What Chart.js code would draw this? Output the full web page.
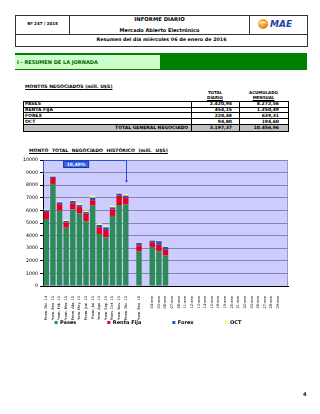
<!DOCTYPE html>
<html>
<head>
<meta charset="utf-8">
<script src="https://cdn.jsdelivr.net/npm/chart.js@4.4.0/dist/chart.umd.min.js"></script>
<style>
  html, body { margin: 0; padding: 0; background: #fff; }
  body { width: 320px; height: 414px; position: relative; overflow: hidden;
         font-family: "DejaVu Sans", Verdana, sans-serif; font-weight: bold; color: #000; }
  .a { position: absolute; white-space: nowrap; }
  .ln { position: absolute; background: #333; }
  .c { text-align: center; }
  .u { text-decoration: underline; }
  .row { position: absolute; left: 23px; width: 265px; height: 6px; line-height: 6px; font-size: 4.5px; }
  .row span { position: absolute; top: 0; }
  #chartBox { position: absolute; left: 0; top: 152px; }
</style>
</head>
<body>
  <!-- header box -->
  <div class="a" style="left:15px;top:15px;width:291px;height:30px;border:1px solid #333"></div>
  <div class="ln" style="left:69px;top:15px;width:1px;height:19px"></div>
  <div class="ln" style="left:249px;top:15px;width:1px;height:19px"></div>
  <div class="ln" style="left:15px;top:34px;width:292px;height:1px"></div>
  <div class="a c" style="left:16px;top:21px;width:53px;font-size:4px">Nº 247 / 2015</div>
  <div class="a c" style="left:70px;top:15.5px;width:179px;font-size:5.3px">INFORME DIARIO</div>
  <div class="a c" style="left:70px;top:26.5px;width:179px;font-size:5px">Mercado Abierto Electrónico</div>
  <div class="a c" style="left:16px;top:37px;width:291px;font-size:4.8px">Resumen del día miércoles 06 de enero de 2016</div>
  <div class="a" style="left:258px;top:19px;width:10px;height:10px;border-radius:50%;background:radial-gradient(circle at 35% 35%,#ffd080,#f08a10 60%,#c05a00)"></div>
  <div class="a" style="left:259px;top:22px;width:8px;height:3px;border-top:1px solid #fff;border-radius:50%"></div>
  <div class="a" style="left:270px;top:18.5px;font-size:9px;font-style:italic;color:#1f3fa8">MAE</div>

  <!-- section band -->
  <div class="a" style="left:15px;top:53px;width:292px;height:17px;background:#008000"></div>
  <div class="a" style="left:15px;top:55px;width:145px;height:14px;background:#ccffcc"></div>
  <div class="a" style="left:17px;top:59px;font-size:5px;color:#006600">I - RESUMEN DE LA JORNADA</div>

  <!-- montos table -->
  <div class="a u" style="left:25px;top:84px;font-size:4.6px">MONTOS NEGOCIADOS (mill. U$S)</div>
  <div class="a c" style="left:191px;top:89.5px;width:48px;font-size:4px">TOTAL</div>
  <div class="a c u" style="left:191px;top:94.5px;width:48px;font-size:4px">DIARIO</div>
  <div class="a c" style="left:239px;top:89.5px;width:49px;font-size:4px">ACUMULADO</div>
  <div class="a c u" style="left:239px;top:94.5px;width:49px;font-size:4px">MENSUAL</div>

  <div class="a" style="left:23px;top:124.5px;width:265px;height:6px;background:#c0c0c0"></div>
  <div class="row" style="top:101px"><span style="left:2px">PASES</span><span style="right:56px">2.420,94</span><span style="right:9px">8.272,56</span></div>
  <div class="row" style="top:106.9px"><span style="left:2px">RENTA FIJA</span><span style="right:56px">454,15</span><span style="right:9px">1.350,49</span></div>
  <div class="row" style="top:112.8px"><span style="left:2px">FOREX</span><span style="right:56px">228,48</span><span style="right:9px">639,31</span></div>
  <div class="row" style="top:118.7px"><span style="left:2px">OCT</span><span style="right:56px">94,80</span><span style="right:9px">194,60</span></div>
  <div class="row" style="top:124.6px"><span style="right:100px">TOTAL GENERAL NEGOCIADO</span><span style="right:56px">3.197,37</span><span style="right:9px">10.456,96</span></div>
  <div class="a" style="left:23px;top:100.5px;width:264px;height:29.5px;border:1px solid #000"></div>
  <div class="ln" style="left:23px;top:106.5px;width:265px;height:0.5px;background:#000"></div>
  <div class="ln" style="left:23px;top:112.4px;width:265px;height:0.5px;background:#000"></div>
  <div class="ln" style="left:23px;top:118.3px;width:265px;height:0.5px;background:#000"></div>
  <div class="ln" style="left:23px;top:124.2px;width:265px;height:1px;background:#000"></div>
  <div class="ln" style="left:190.5px;top:100.5px;width:1px;height:30px;background:#000"></div>
  <div class="ln" style="left:239px;top:100.5px;width:1px;height:30px;background:#000"></div>

  <div class="a u" style="left:29px;top:147.5px;font-size:4.6px;word-spacing:2px">MONTO TOTAL NEGOCIADO HISTÓRICO (mill. U$S)</div>

  <div id="chartBox"><canvas id="myChart" width="320" height="214"></canvas></div>

  <div class="a" style="left:303px;top:391px;font-size:5px">4</div>

<script>
const categories = [
  'Prom. Dic. 14', 'Prom. Ene. 15', 'Prom. Feb. 15', 'Prom. Mar. 15', 'Prom. Abr. 15',
  'Prom. May. 15', 'Prom. Jun. 15', 'Prom. Jul. 15', 'Prom. Ago. 15', 'Prom. Sep. 15',
  'Prom. Oct. 15', 'Prom. Nov. 15', 'Prom. Dic. 15', '', 'Prom. Ene. 16', '',
  '04-ene', '05-ene', '06-ene', '07-ene', '08-ene', '11-ene', '12-ene', '13-ene',
  '14-ene', '15-ene', '18-ene', '19-ene', '20-ene', '21-ene', '22-ene', '25-ene',
  '26-ene', '27-ene', '28-ene', '29-ene', ''
];

const pases = [5320, 8100, 5980, 4630, 6080, 5770, 5130, 6380, 4130, 3860, 5560, 6430, 6480,
  null, 2758, null, 3100, 2752, 2421,
  null, null, null, null, null, null, null, null, null, null, null, null, null, null, null, null, null, null, null];
const rentaFija = [550, 470, 520, 400, 480, 530, 610, 420, 530, 580, 520, 740, 530,
  null, 450, null, 370, 526, 454,
  null, null, null, null, null, null, null, null, null, null, null, null, null, null, null, null, null, null, null];
const forex = [130, 110, 140, 130, 190, 130, 130, 210, 180, 220, 160, 160, 160,
  null, 213, null, 130, 281, 228,
  null, null, null, null, null, null, null, null, null, null, null, null, null, null, null, null, null, null, null];
const oct = [80, 80, 80, 100, 100, 130, 110, 160, 130, 130, 140, 80, 130,
  null, 65, null, 50, 50, 95,
  null, null, null, null, null, null, null, null, null, null, null, null, null, null, null, null, null, null, null];

const yTicks = [0, 1000, 2000, 3000, 4000, 5000, 6000, 7000, 8000, 9000, 10000];

// bracket drawn over the monthly averages
const bracket = { from: 0, to: 12, top: 10000, leftEnd: 8900, rightEnd: 8200, labelAt: [4.5, 9660], label: '19,49%' };

const FONT = '"DejaVu Sans", Verdana, sans-serif';

const plotBg = {
  id: 'plotBg',
  beforeDraw(chart) {
    const { ctx, chartArea: a } = chart;
    ctx.save();
    ctx.fillStyle = '#ccccff';
    ctx.fillRect(a.left, a.top, a.width, a.height);
    ctx.strokeStyle = '#9a9ac0';
    ctx.lineWidth = 1;
    ctx.strokeRect(a.left + 0.5, a.top + 0.5, a.width - 1, a.height);
    ctx.restore();
  }
};

// pull the legend up under the rotated labels (labels.padding also sets the gap between items)
const legendLift = {
  id: 'legendLift',
  afterLayout(chart) {
    const lg = chart.legend;
    lg.top -= 31;
    lg.bottom -= 31;
  }
};

const bracketPlugin = {
  id: 'bracket',
  afterDatasetsDraw(chart) {
    const { ctx, chartArea: a, scales: { x, y } } = chart;
    const xl = a.left + 0.5;
    const xr = Math.round(x.getPixelForValue(bracket.to)) + 0.5;
    const yt = Math.round(y.getPixelForValue(bracket.top)) + 0.5;
    const yl = y.getPixelForValue(bracket.leftEnd);
    const yr = y.getPixelForValue(bracket.rightEnd);
    ctx.save();
    ctx.strokeStyle = '#2a4fe0';
    ctx.fillStyle = '#2a4fe0';
    ctx.lineWidth = 1;
    ctx.beginPath();
    ctx.moveTo(xl, yl); ctx.lineTo(xl, yt); ctx.lineTo(xr, yt); ctx.lineTo(xr, yr - 2);
    ctx.stroke();
    ctx.beginPath();
    ctx.moveTo(xr - 1.5, yr - 2.5); ctx.lineTo(xr + 1.5, yr - 2.5); ctx.lineTo(xr, yr);
    ctx.closePath(); ctx.fill();
    // label box
    const cx = x.getPixelForValue(bracket.labelAt[0]);
    const cy = y.getPixelForValue(bracket.labelAt[1]);
    const w = 25, h = 6.5;
    ctx.fillStyle = '#3366ee';
    ctx.fillRect(cx - w / 2, cy - h / 2, w, h);
    ctx.strokeStyle = '#1a3399';
    ctx.strokeRect(cx - w / 2, cy - h / 2, w, h);
    ctx.fillStyle = '#fff';
    ctx.font = 'bold 4.5px ' + FONT;
    ctx.textAlign = 'center';
    ctx.textBaseline = 'middle';
    ctx.fillText(bracket.label, cx, cy + 0.3);
    ctx.restore();
  }
};

const ds = (label, data, color) => ({
  label, data, backgroundColor: color, borderWidth: 0,
  barPercentage: 0.82, categoryPercentage: 1
});

new Chart(document.getElementById('myChart'), {
  type: 'bar',
  data: {
    labels: categories,
    datasets: [
      ds('Pases', pases, '#2e8b57'),
      ds('Renta Fija', rentaFija, '#e8001c'),
      ds('Forex', forex, '#2a4fd8'),
      ds('OCT', oct, '#ffff66')
    ]
  },
  options: {
    responsive: false,
    animation: false,
    layout: { padding: { left: 8, right: 32, top: 8, bottom: 0 } },
    plugins: {
      legend: {
        position: 'bottom',
        labels: {
          boxWidth: 3, boxHeight: 3, padding: 31, color: '#000',
          font: { family: FONT, size: 5, weight: 'bold' }
        }
      },
      tooltip: { enabled: false }
    },
    scales: {
      x: {
        stacked: true,
        grid: { display: false },
        border: { color: '#000' },
        ticks: { autoSkip: false, minRotation: 90, maxRotation: 90, padding: 2, color: '#000',
                 font: { family: FONT, size: 3.6 } },
        afterFit(s) { s.height = 34; }
      },
      y: {
        stacked: true,
        min: 0, max: 10000,
        afterBuildTicks(s) { s.ticks = yTicks.map(v => ({ value: v })); },
        ticks: { padding: 2, color: '#000', font: { family: FONT, size: 4.7 },
                 callback: v => String(v) },
        grid: { color: '#8585aa', tickLength: 3, tickColor: '#000' },
        border: { color: '#000' },
        afterFit(s) { s.width = 35; }
      }
    }
  },
  plugins: [plotBg, legendLift, bracketPlugin]
});
</script>
</body>
</html>
